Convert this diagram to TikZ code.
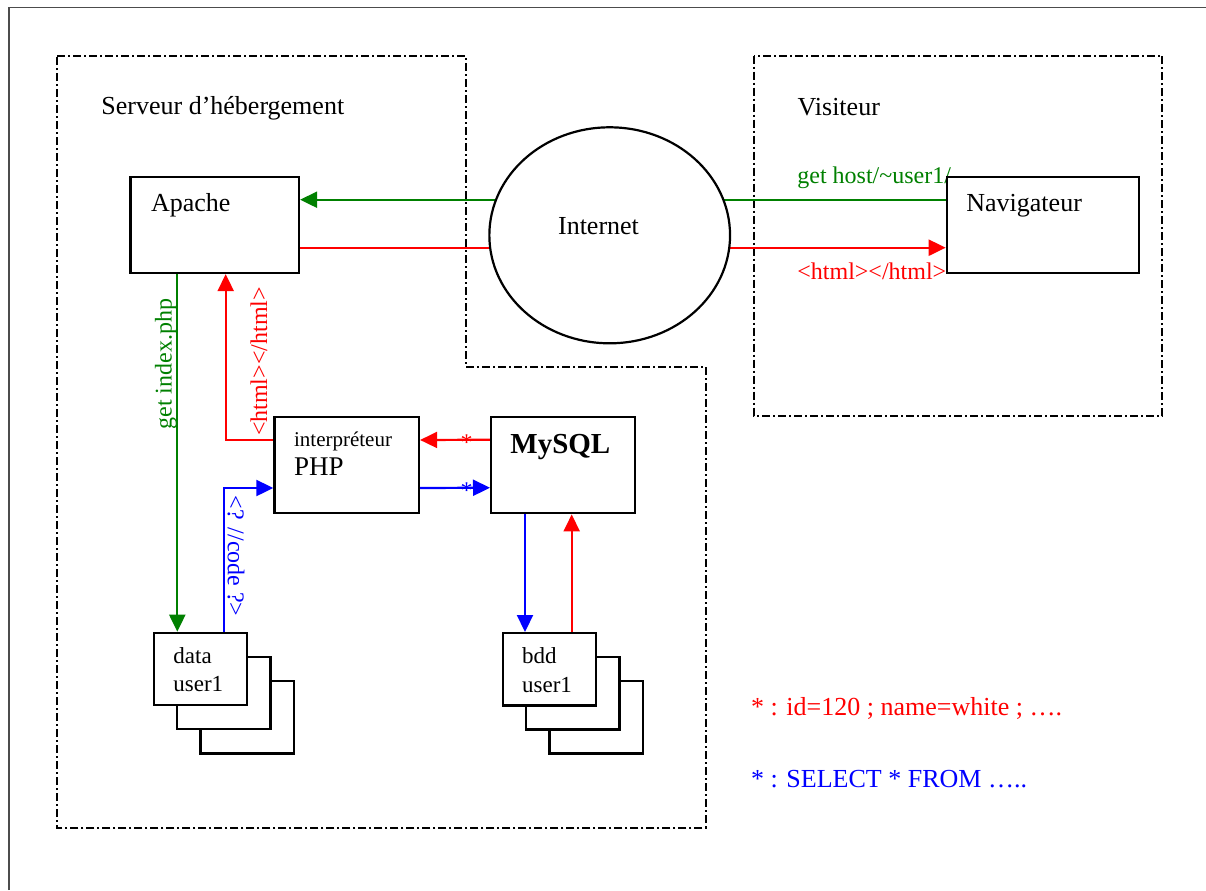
\documentclass[tikz,border=0pt]{standalone}
\usepackage{fontspec}
\setmainfont{Liberation Serif}
\usetikzlibrary{arrows.meta,calc,shapes.geometric}
\pgfdeclarelayer{back}
\pgfdeclarelayer{mid}
\pgfsetlayers{back,mid,main}
\definecolor{wgreen}{RGB}{0,128,0}
\definecolor{wred}{RGB}{255,0,0}
\definecolor{wblue}{RGB}{0,0,255}
\tikzset{
  box/.style={draw=black, line width=1.2pt, fill=white, anchor=north west, inner sep=0pt},
  region/.style={draw=black, line width=1pt, dash pattern=on 4pt off 1.5pt on 1pt off 1.5pt},
  conn/.style={line width=1.1pt, -{Triangle[length=8.5pt,width=8pt]}},
  txt/.style={anchor=base west, inner sep=0pt, font=\fontsize{13}{15}\selectfont},
  lbl/.style={inner sep=0pt, font=\fontsize{12}{14}\selectfont},
  smalltxt/.style={txt, font=\fontsize{11.5}{14}\selectfont},
}
\begin{document}
\begin{tikzpicture}[x=0.5pt,y=-0.5pt]
\useasboundingbox (0,0) rectangle (1206,890);

% frame and regions
\begin{pgfonlayer}{back}
\draw[black!70, line width=0.7pt] (9,890) -- (9,7.3) -- (1206,7.3);
\draw[region] (57.3,55.7) -- (465.7,55.7) -- (465.7,366.7) -- (705.7,366.7) -- (705.7,828) -- (57.3,828) -- cycle;
\draw[region] (754,55.7) rectangle (1162.3,415.7);
\end{pgfonlayer}

\node[txt] (tserveur) at (101,114) {Serveur d’hébergement};
\node[txt] (tvisit) at (797.3,115) {Visiteur};

% boxes
\node[box, minimum width=84.2pt, minimum height=48pt] (apache) at (129.3,175.7) {};
\node[box, minimum width=96pt, minimum height=48pt] (nav) at (945.7,175.7) {};
\node[box, minimum width=72.2pt, minimum height=47.85pt] (php) at (273.3,416) {};
\node[box, minimum width=71.85pt, minimum height=48.15pt] (mysql) at (490,415.7) {};
\node[ellipse, draw=black, line width=1.1pt, fill=white, minimum width=120.35pt, minimum height=108pt, inner sep=0pt] (internet) at (609.7,235.3) {};

\node[box, minimum width=46.65pt, minimum height=36.15pt] (data3) at (199.3,680) {};
\node[box, minimum width=46.65pt, minimum height=36.15pt] (data2) at (176,655.7) {};
\node[box, minimum width=46.65pt, minimum height=36.15pt] (data1) at (152.7,631.7) {};
\node[box, minimum width=46.65pt, minimum height=36.15pt] (bdd3) at (548.3,680) {};
\node[box, minimum width=46.65pt, minimum height=36.15pt] (bdd2) at (525,656) {};
\node[box, minimum width=46.65pt, minimum height=36.15pt] (bdd1) at (501.7,632) {};

% box texts
\node[txt] (tapache) at ($(apache.north west)+(21.4,36)$) {Apache};
\node[txt] (tnav) at ($(nav.north west)+(20.3,36)$) {Navigateur};
\node[txt] (tinternet) at (557.7,234.3) {Internet};
\node[txt, font=\fontsize{10.5}{12}\selectfont] (tinterp) at ($(php.north west)+(20.4,30)$) {interpréteur};
\node[txt, font=\fontsize{13.5}{16}\selectfont] (tphp) at ($(php.north west)+(20.4,59)$) {PHP};
\node[txt, font=\fontsize{14.5}{17}\selectfont\bfseries] (tmysql) at ($(mysql.north west)+(20,38)$) {MySQL};
\node[smalltxt] (tdata) at ($(data1.north west)+(20.3,31.3)$) {data};
\node[smalltxt] (tuser1) at ($(data1.north west)+(20.3,60)$) {user1};
\node[smalltxt] (tbdd) at ($(bdd1.north west)+(20,31.3)$) {bdd};
\node[smalltxt] (tuser2) at ($(bdd1.north west)+(20,60)$) {user1};

% connectors
\begin{pgfonlayer}{mid}
\draw[conn, wgreen] ($(nav.north west)+(0,24)$) -- ($(apache.north east)+(0,24)$);
\draw[conn, wred] ($(apache.north east)+(0,72)$) -- ($(nav.north west)+(0,72)$);
\node[lbl, text=wgreen, anchor=base west] (lblget) at (797,183) {get host/\textasciitilde user1/};
\node[lbl, text=wred, anchor=base west] (lblhtml) at (797,279) {<html></html>};

\coordinate (gA) at ($(apache.south west)+(48,0)$);
\draw[conn, wgreen] (gA) -- (gA |- data1.north);
\coordinate (bD) at ($(data1.north west)+(71.5,0)$);
\draw[conn, wblue] (bD) |- ($(php.north west)+(0,72)$);
\coordinate (rA) at ($(apache.south west)+(96.4,0)$);
\draw[conn, wred] ($(php.north west)+(0,24)$) -| (rA);
\draw[conn, wred] ($(mysql.north west)+(0,24)$) -- ($(php.north east)+(0,24)$);
\draw[conn, wblue] ($(php.north east)+(0,72)$) -- ($(mysql.north west)+(0,72)$);
\coordinate (bM) at ($(mysql.south west)+(35,0)$);
\draw[conn, wblue] (bM) -- (bM |- bdd1.north);
\coordinate (rB) at ($(bdd1.north west)+(70,0)$);
\draw[conn, wred] (rB) -- (rB |- mysql.south);
\end{pgfonlayer}

% connector labels
\node[lbl, text=wgreen, rotate=90] (lblidx) at (166,364) {get index.php};
\node[lbl, text=wred, rotate=90] (lblhtml2) at (259,361.5) {<html></html>};
\node[lbl, text=wblue, rotate=-90] (lblcode) at (236,556) {<? //code ?>};
\node[lbl, text=wred, anchor=base] (astred) at (466.7,450) {*};
\node[lbl, text=wblue, anchor=base] (astblue) at (466.7,498) {*};

% legend
\node[txt, text=wred] (leg1) at (750.7,715) {* : id=120 ; name=white ; ….};
\node[txt, text=wblue] (leg2) at (750.7,787.3) {* : SELECT * FROM …..};
\end{tikzpicture}
\end{document}
